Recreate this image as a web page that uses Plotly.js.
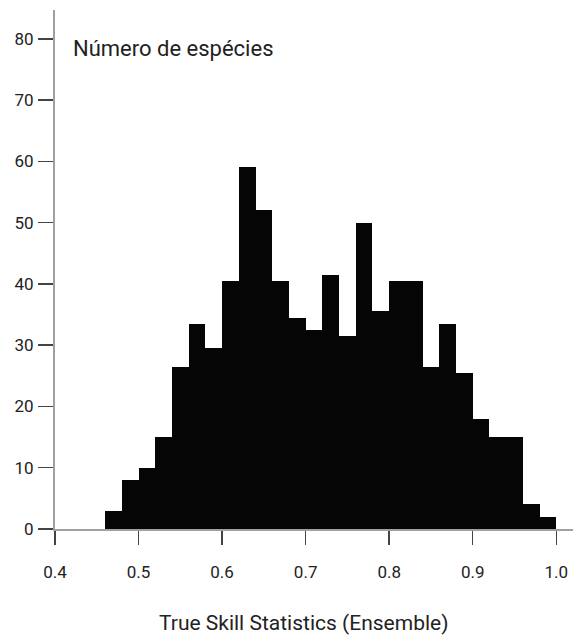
<!DOCTYPE html>
<html>
<head>
<meta charset="utf-8">
<script src="https://cdn.plot.ly/plotly-3.0.1.min.js"></script>
<style>html,body{margin:0;padding:0;background:#fff;}#chart{width:574px;height:636px;}</style>
</head>
<body>
<div id="chart"></div>
<script>
const binStarts = [0.46,0.48,0.50,0.52,0.54,0.56,0.58,0.60,0.62,0.64,0.66,0.68,0.70,0.72,0.74,0.76,0.78,0.80,0.82,0.84,0.86,0.88,0.90,0.92,0.94,0.96,0.98];
const counts = [3,8,10,15,26.5,33.5,29.5,40.5,59,52,40.5,34.5,32.5,41.5,31.5,50,35.5,40.5,40.5,26.5,33.5,25.5,18,15,15,4,2];
const xTickVals = [0.4,0.5,0.6,0.7,0.8,0.9,1.0];
const xTickText = ["0.4","0.5","0.6","0.7","0.8","0.9","1.0"];
const yTickVals = [0,10,20,30,40,50,60,70,80];
const xTitle = "True Skill Statistics (Ensemble)";
const yTitle = "Número de espécies";

const FONT = "Roboto, 'Liberation Sans', sans-serif";

const trace = {
  type: 'bar',
  x: binStarts,
  y: counts,
  width: 0.02,
  offset: 0,
  marker: {color: '#050505', line: {width: 0}},
  hoverinfo: 'skip'
};

const layout = {
  width: 574, height: 636,
  margin: {l: 55, r: 1, t: 10, b: 107},
  paper_bgcolor: '#fff', plot_bgcolor: '#fff',
  showlegend: false,
  bargap: 0,
  font: {family: FONT, size: 17, color: '#222'},
  xaxis: {
    range: [0.4, 1.02],
    tickvals: xTickVals, ticktext: xTickText,
    ticks: 'outside', ticklen: 14, tickwidth: 1.5, tickcolor: '#444',
    showline: true, linecolor: '#a0a0a0', linewidth: 2,
    showgrid: false, zeroline: false,
    tickfont: {family: FONT, size: 17, color: '#222'},
    ticklabelstandoff: 13
  },
  yaxis: {
    range: [0, 84.7],
    tickvals: yTickVals,
    ticks: 'outside', ticklen: 15, tickwidth: 1.5, tickcolor: '#444',
    showline: true, linecolor: '#a0a0a0', linewidth: 2,
    showgrid: false, zeroline: false,
    tickfont: {family: FONT, size: 17, color: '#222'},
    ticklabelstandoff: 1
  },
  annotations: [{
    text: yTitle, xref: 'paper', yref: 'paper',
    x: 0.03, y: 0.925, xanchor: 'left', yanchor: 'middle',
    showarrow: false,
    font: {family: FONT, size: 22, color: '#222'}
  }, {
    text: xTitle, xref: 'paper', yref: 'paper',
    x: 0.481, y: -0.182, xanchor: 'center', yanchor: 'middle',
    showarrow: false,
    font: {family: FONT, size: 21, color: '#222'}
  }]
};

Plotly.newPlot('chart', [trace], layout, {displayModeBar: false, staticPlot: true});
</script>
</body>
</html>
